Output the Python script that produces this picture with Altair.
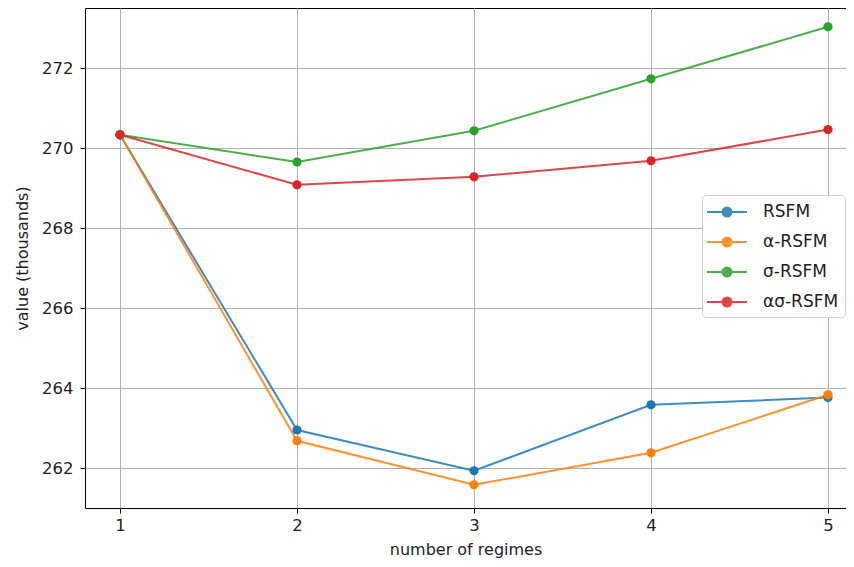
import altair as alt
import pandas as pd

regimes = [1, 2, 3, 4, 5]
series_names = ["RSFM", "α-RSFM", "σ-RSFM", "ασ-RSFM"]
rsfm = [270.33, 262.95, 261.93, 263.58, 263.76]
alpha_rsfm = [270.33, 262.68, 261.58, 262.38, 263.83]
sigma_rsfm = [270.33, 269.65, 270.43, 271.73, 273.03]
alphasigma_rsfm = [270.33, 269.08, 269.28, 269.68, 270.46]
colors = ["#1f77b4", "#ff7f0e", "#2ca02c", "#d62728"]

rows = []
for name, vals in zip(series_names, [rsfm, alpha_rsfm, sigma_rsfm, alphasigma_rsfm]):
    for r, v in zip(regimes, vals):
        rows.append({"regimes": r, "value": v, "series": name})
df = pd.DataFrame(rows)

font = "DejaVu Sans"
sym = "M-2,0H2M0.45,0A0.45,0.45 0 1 1 -0.45,0A0.45,0.45 0 1 1 0.45,0Z"

x = alt.X("regimes:Q", scale=alt.Scale(domain=[0.8023, 5.1017], nice=False, zero=False),
          axis=alt.Axis(values=regimes, format="d", title="number of regimes"))
y = alt.Y("value:Q", scale=alt.Scale(domain=[261.0, 273.5], nice=False, zero=False),
          axis=alt.Axis(values=[262, 264, 266, 268, 270, 272], title="value (thousands)"))
color = alt.Color("series:N", scale=alt.Scale(domain=series_names, range=colors),
                  sort=series_names,
                  legend=alt.Legend(title=None, orient="none", legendX=617, legendY=187,
                                    symbolType=sym, symbolSize=400, symbolStrokeWidth=2,
                                    labelFont=font, labelFontSize=17, labelColor="#222",
                                    rowPadding=10, padding=6, fillColor="white",
                                    strokeColor="#d0d0d0", cornerRadius=4,
                                    labelOffset=25, symbolOffset=8))

lines = alt.Chart(df).mark_line(strokeWidth=2, opacity=0.85).encode(
    x=x, y=y, color=color, detail="series:N", order="regimes:Q")
points = alt.Chart(df).mark_point(filled=True, size=85, opacity=1).encode(
    x=x, y=y, color=color)

chart = alt.layer(lines, points).properties(
    width=761, height=500,
    autosize=alt.AutoSizeParams(type="none"),
    padding={"left": 77, "top": 0, "right": 0, "bottom": 51},
).configure_view(stroke="black", strokeWidth=1).configure_axis(
    grid=True, gridColor="#b0b0b0", gridWidth=1, domain=False,
    tickColor="black", tickSize=5, tickWidth=1,
    labelFont=font, labelFontSize=16.5, labelColor="#222",
    titleFont=font, titleFontSize=16, titleColor="#222", titleFontWeight="normal",
).configure_axisX(labelPadding=4, titlePadding=8).configure_axisY(labelPadding=7, titlePadding=11)

chart.save("out.html", embed_options={"renderer": "svg", "actions": False})
